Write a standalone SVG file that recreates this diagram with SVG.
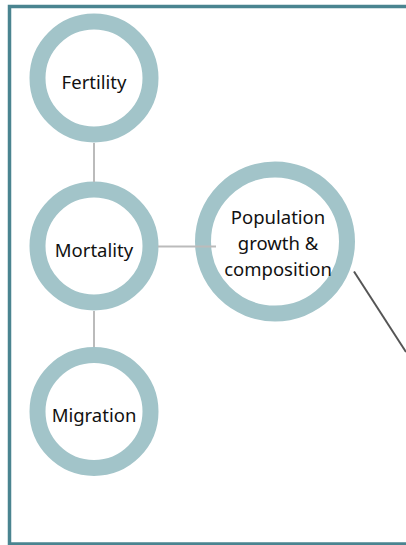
<svg xmlns="http://www.w3.org/2000/svg" width="406" height="545" viewBox="0 0 406 545">
<style>
.ring{fill:#fff;stroke:#a2c4c9;stroke-width:16}
.lbl{font-family:"Noto Sans","Open Sans",sans-serif;font-size:18.5px;fill:#111;text-anchor:middle}
.link{stroke:#bbbbbb;stroke-width:2;fill:none}
</style>
<rect width="406" height="545" fill="#fff"/>
<rect x="9.5" y="6.5" width="420" height="537.5" fill="none" stroke="#4a8490" stroke-width="3.5"/>
<g id="fertility"><circle class="ring" cx="94" cy="78" r="56.5"/><text class="lbl" x="94" y="89">Fertility</text></g>
<g id="mortality"><circle class="ring" cx="94" cy="246" r="56.5"/><text class="lbl" x="94" y="257">Mortality</text></g>
<g id="migration"><circle class="ring" cx="94" cy="411.5" r="56.5"/><text class="lbl" x="94" y="422">Migration</text></g>
<g id="population"><circle class="ring" cx="275" cy="241.5" r="72"/><text class="lbl" x="278"><tspan x="278" y="224">Population</tspan><tspan x="278" y="250">growth &amp;</tspan><tspan x="278" y="276">composition</tspan></text></g>
<g id="connectors">
<line class="link" x1="94" y1="143" x2="94" y2="182"/>
<line class="link" x1="94" y1="311" x2="94" y2="347"/>
<line class="link" x1="158" y1="246.5" x2="216" y2="246.5"/>
<line x1="354" y1="271.5" x2="406" y2="352" stroke="#555" stroke-width="2"/>
</g>
</svg>
